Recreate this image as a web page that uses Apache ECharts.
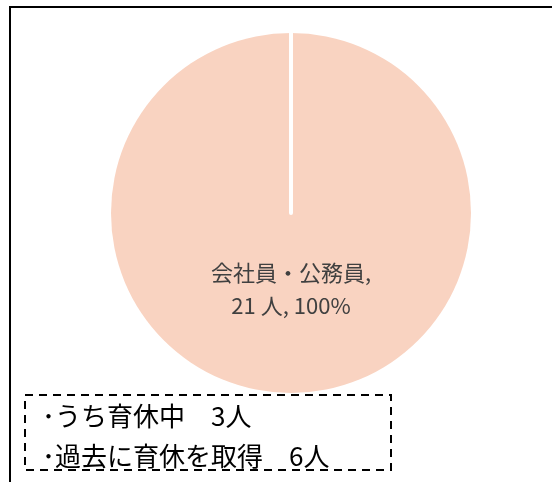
<!DOCTYPE html>
<html>
<head>
<meta charset="utf-8">
<script src="https://cdn.jsdelivr.net/npm/echarts@6/dist/echarts.min.js"></script>
<style>
  html, body { margin: 0; padding: 0; background: #fff; }
  #main { width: 552px; height: 482px; }
</style>
</head>
<body>
<div id="main"></div>
<script>
// data
var categories = ["会社員・公務員"];
var values = [21];
var noteLines = ["･うち育休中　3人", "･過去に育休を取得　6人"];

var chartDom = document.getElementById("main");
var myChart = echarts.init(chartDom, null, { renderer: "canvas" });

var cx = 291, cy = 213, r = 180;
var font = "'Noto Sans CJK JP', 'Noto Sans', sans-serif";

var option = {
  animation: false,
  series: [
    {
      type: "pie",
      center: [cx, cy],
      radius: r,
      startAngle: 90,
      clockwise: true,
      avoidLabelOverlap: false,
      itemStyle: { color: "#F9D3C1" },
      label: {
        show: true,
        position: "center",
        formatter: "{b},\n{c} 人, {d}%",
        fontFamily: font,
        fontSize: 22,
        lineHeight: 33,
        color: "#404040",
      },
      labelLayout: { dy: 76 },
      labelLine: { show: false },
      emphasis: { disabled: true },
      data: categories.map(function (c, i) {
        return { name: c, value: values[i] };
      }),
    },
  ],
  graphic: [
    {
      type: "rect",
      shape: { x: 10, y: 7, width: 600, height: 520 },
      style: { fill: "none", stroke: "#000", lineWidth: 2 },
      silent: true,
    },
    {
      // slice edge at the top
      type: "line",
      z: 100,
      shape: { x1: cx, y1: cy - r, x2: cx, y2: cy },
      style: { stroke: "#fff", lineWidth: 4, lineCap: "round" },
      silent: true,
    },
    {
      type: "rect",
      z: 100,
      shape: { x: 25, y: 395, width: 366, height: 75 },
      style: { fill: "none", stroke: "#000", lineWidth: 2, lineDash: [8, 6] },
      silent: true,
    },
    {
      type: "text",
      z: 101,
      left: 42,
      top: 403,
      style: {
        text: noteLines[0],
        font: "26px " + font,
        fill: "#000",
      },
      silent: true,
    },
    {
      type: "text",
      z: 101,
      left: 42,
      top: 443,
      style: {
        text: noteLines[1],
        font: "26px " + font,
        fill: "#000",
      },
      silent: true,
    },
  ],
};

option && myChart.setOption(option);
</script>
</body>
</html>
